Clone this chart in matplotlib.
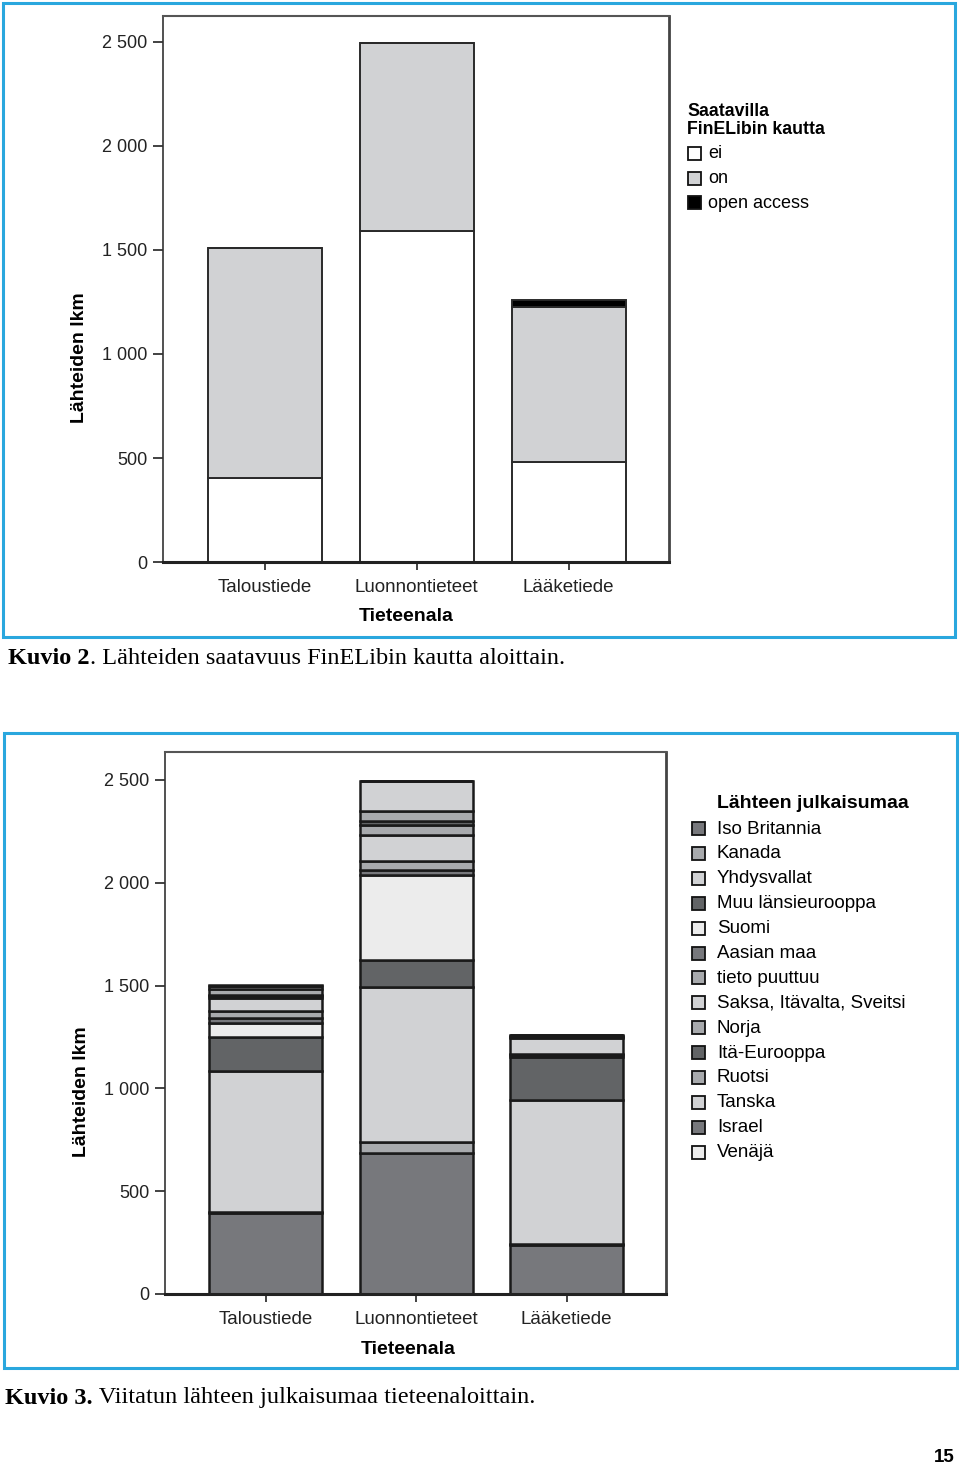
import matplotlib.pyplot as plt
from matplotlib.patches import Rectangle
import numpy as np

plt.rcParams['font.family'] = ['Liberation Sans', 'DejaVu Sans']

# Fields of science (x categories)
fields = ['Taloustiede', 'Luonnontieteet', 'Lääketiede']

# Chart 1: availability via FinELib
avail_labels = ['ei', 'on', 'open access']
avail_colors = ['#ffffff', '#d1d2d4', '#000000']
avail_ei = [405, 1590, 480]
avail_on = [1105, 905, 745]
avail_oa = [0, 0, 35]

# Chart 2: country of publication of the source
countries = ['Iso Britannia', 'Kanada', 'Yhdysvallat', 'Muu länsieurooppa', 'Suomi',
             'Aasian maa', 'tieto puuttuu', 'Saksa, Itävalta, Sveitsi', 'Norja',
             'Itä-Eurooppa', 'Ruotsi', 'Tanska', 'Israel', 'Venäjä']
country_colors = ['#77787c', '#a8aaad', '#d1d2d4', '#626466', '#ececec',
                  '#77787c', '#a8aaad', '#d1d2d4', '#a8aaad',
                  '#626466', '#a8aaad', '#d1d2d4', '#77787c', '#ececec']
# values per country for [Taloustiede, Luonnontieteet, Lääketiede]
country_vals = {
    'Iso Britannia': [394, 686, 238],
    'Kanada': [5, 53, 3],
    'Yhdysvallat': [686, 754, 702],
    'Muu länsieurooppa': [163, 131, 212],
    'Suomi': [72, 413, 5],
    'Aasian maa': [22, 24, 4],
    'tieto puuttuu': [33, 45, 3],
    'Saksa, Itävalta, Sveitsi': [65, 126, 78],
    'Norja': [7, 49, 3],
    'Itä-Eurooppa': [6, 19, 3],
    'Ruotsi': [32, 49, 4],
    'Tanska': [12, 146, 3],
    'Israel': [3, 0, 2],
    'Venäjä': [5, 0, 0],
}

yticks = [0, 500, 1000, 1500, 2000, 2500]
ytick_labels = ['0', '500', '1 000', '1 500', '2 000', '2 500']

W, H = 960, 1465
fig = plt.figure(figsize=(W / 100, H / 100), dpi=100)


def fx(px):
    return px / W


def fy(py):
    return 1 - py / H


def style_axes(ax):
    ax.set_xlim(-0.67, 2.66)
    ax.set_yticks(yticks)
    ax.set_yticklabels(ytick_labels, fontsize=13)
    ax.set_xticks(range(len(fields)))
    ax.set_xticklabels(fields, fontsize=13.5)
    ax.tick_params(axis='y', length=7, width=1.2, pad=4, colors='#222222')
    ax.tick_params(axis='x', length=6, width=1.2, pad=6.5, colors='#222222')
    ax.spines['bottom'].set_linewidth(2.2)
    ax.spines['bottom'].set_color('#222222')
    ax.spines['left'].set_linewidth(1.2)
    ax.spines['left'].set_color('#333333')
    ax.spines['top'].set_linewidth(1.5)
    ax.spines['top'].set_color('#555555')
    ax.spines['right'].set_linewidth(2.0)
    ax.spines['right'].set_color('#444444')


def legend_box(x, y, color, edge_lw=1.3):
    fig.patches.append(Rectangle((fx(x), fy(y + 13)), 13 / W, 13 / H,
                                 transform=fig.transFigure, facecolor=color,
                                 edgecolor='#111111', linewidth=edge_lw))


def caption(x, y, bold_part, rest):
    serif = ['Liberation Serif', 'DejaVu Serif']
    t = fig.text(fx(x), fy(y), bold_part, ha='left', va='center', fontsize=17.5,
                 fontweight='bold', family=serif)
    fig.canvas.draw()
    bb = t.get_window_extent()
    fig.text(bb.x1 / W, fy(y), rest, ha='left', va='center', fontsize=17.5,
             family=serif)


# ---- chart 1 ----
ax1 = fig.add_axes([fx(163), fy(562), fx(669) - fx(163), fy(16) - fy(562)])
x = np.arange(len(fields))
bottom = np.zeros(len(fields))
for vals, col in zip([avail_ei, avail_on, avail_oa], avail_colors):
    ax1.bar(x, vals, width=0.75, bottom=bottom, color=col,
            edgecolor='#2a2a2a', linewidth=1.4)
    bottom += np.array(vals)
ax1.set_ylim(0, 2625)
style_axes(ax1)
fig.text(fx(80), fy(358), 'Lähteiden lkm', rotation=90, ha='center', va='center',
         fontsize=14, fontweight='bold')
fig.text(fx(406), fy(617), 'Tieteenala', ha='center', va='center',
         fontsize=14, fontweight='bold')

fig.text(fx(687), fy(111), 'Saatavilla', ha='left', va='center',
         fontsize=12.8, fontweight='bold')
fig.text(fx(687), fy(129), 'FinELibin kautta', ha='left', va='center',
         fontsize=12.8, fontweight='bold')
for i, (lab, col) in enumerate(zip(avail_labels, avail_colors)):
    yy = 154 + i * 24.5
    legend_box(688, yy - 7, col)
    fig.text(fx(708), fy(yy), lab, ha='left', va='center', fontsize=13)

# ---- chart 2 ----
ax2 = fig.add_axes([fx(165), fy(1294), fx(666) - fx(165), fy(752) - fy(1294)])
bottom = np.zeros(len(fields))
for name, col in zip(countries, country_colors):
    vals = np.array(country_vals[name])
    ax2.bar(x, vals, width=0.75, bottom=bottom, color=col,
            edgecolor='#1a1a1a', linewidth=1.8)
    bottom += vals
ax2.set_ylim(0, 2636)
style_axes(ax2)
fig.text(fx(82), fy(1092), 'Lähteiden lkm', rotation=90, ha='center', va='center',
         fontsize=14, fontweight='bold')
fig.text(fx(408), fy(1350), 'Tieteenala', ha='center', va='center',
         fontsize=14, fontweight='bold')

fig.text(fx(717), fy(804), 'Lähteen julkaisumaa', ha='left', va='center',
         fontsize=14, fontweight='bold')
for i, (name, col) in enumerate(zip(countries, country_colors)):
    yy = 829 + i * 24.9
    legend_box(692, yy - 7, col)
    fig.text(fx(717), fy(yy), name, ha='left', va='center', fontsize=13.5)

# blue frames around the figures
for (x0, y0, x1, y1) in [(3, 3, 955, 637), (4, 733, 957, 1368)]:
    fig.patches.append(Rectangle((fx(x0), fy(y1)), (x1 - x0) / W, (y1 - y0) / H,
                                 transform=fig.transFigure, facecolor='none',
                                 edgecolor='#2aa7de', linewidth=2.2))

# captions
caption(8, 658, 'Kuvio 2', '. Lähteiden saatavuus FinELibin kautta aloittain.')
caption(5, 1398, 'Kuvio 3.', ' Viitatun lähteen julkaisumaa tieteenaloittain.')

fig.text(fx(955), fy(1457), '15', ha='right', va='center', fontsize=13.5,
         fontweight='bold')

fig.savefig('out.png', dpi=100)
